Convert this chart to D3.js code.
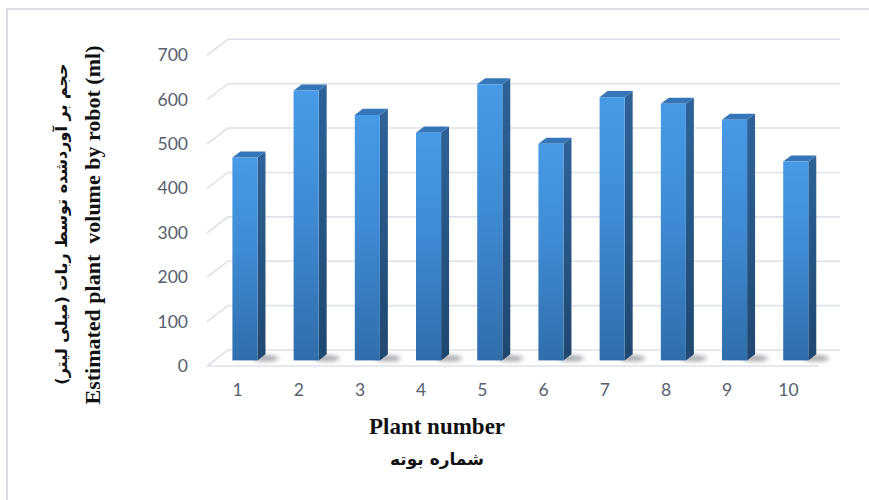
<!DOCTYPE html>
<html>
<head>
<meta charset="utf-8">
<script src="https://cdn.jsdelivr.net/npm/d3@7"></script>
<style>
  html, body { margin: 0; padding: 0; background: #fff; }
  svg { display: block; }
</style>
</head>
<body>
<svg id="chart" width="869" height="500"></svg>
<script>
// Plant numbers and robot-estimated volumes (ml)
const plants = ["1", "2", "3", "4", "5", "6", "7", "8", "9", "10"];
const volumes = [457, 608, 553, 513, 622, 488, 593, 578, 542, 448];
const yTicks = [0, 100, 200, 300, 400, 500, 600, 700];

const yTitleFa = "حجم بر آوردشده توسط ربات (میلی لیتر)";
const yTitleEn = "Estimated plant  volume by robot (ml)";
const xTitleEn = "Plant number";
const xTitleFa = "شماره بوته";

const svg = d3.select("#chart");
const W = 869, H = 500;

// Oblique 3D projection: depth t in [0,1] shifts points right and up
const depthX = 21, depthY = -16;
const floorY = 366;          // front edge of the floor
const plotLeft = 207, plotRight = 819;

const x = d3.scaleBand().domain(plants).range([plotLeft, plotRight]).padding(0);
const y = d3.scaleLinear().domain([0, 700]).range([floorY, floorY - 310.7]);
const px = (vx, t) => vx + depthX * t;
const py = (vy, t) => vy + depthY * t;

// Outer frame
svg.append("path")
  .attr("d", `M7,${H} L7,9 L${W},9`)
  .attr("fill", "none").attr("stroke", "#d9dde6").attr("stroke-width", 2);

const defs = svg.append("defs");
const gFront = defs.append("linearGradient").attr("id", "gFront")
  .attr("x1", 0).attr("y1", 0).attr("x2", 0).attr("y2", 1);
gFront.append("stop").attr("offset", "0%").attr("stop-color", "#479ae6");
gFront.append("stop").attr("offset", "45%").attr("stop-color", "#3f8bd4");
gFront.append("stop").attr("offset", "100%").attr("stop-color", "#2f6eab");
const gSide = defs.append("linearGradient").attr("id", "gSide")
  .attr("x1", 0).attr("y1", 0).attr("x2", 0).attr("y2", 1);
gSide.append("stop").attr("offset", "0%").attr("stop-color", "#2e6399");
gSide.append("stop").attr("offset", "100%").attr("stop-color", "#1f4770");
defs.append("filter").attr("id", "soft")
  .attr("x", "-50%").attr("y", "-50%").attr("width", "200%").attr("height", "200%")
  .append("feGaussianBlur").attr("stdDeviation", 2.2);

// Back-wall gridlines with their diagonal floor/side returns
const grid = svg.append("g").attr("stroke", "#dde1e8").attr("stroke-width", 1.6).attr("fill", "none");
yTicks.forEach(v => {
  const yb = py(y(v), 1);
  grid.append("path")
    .attr("d", `M${px(plotLeft, 0)},${y(v)} L${px(plotLeft, 1)},${yb} L${px(plotRight, 1)},${yb}`);
});
// Front edge of the floor
grid.append("line")
  .attr("x1", plotLeft).attr("x2", plotRight)
  .attr("y1", floorY).attr("y2", floorY);

// Y tick labels
svg.append("g").selectAll("text").data(yTicks).join("text")
  .attr("x", 188).attr("y", d => y(d) + 1.5)
  .attr("text-anchor", "end").attr("dominant-baseline", "middle")
  .attr("font-family", "Lato, 'Open Sans', sans-serif").attr("font-size", 17.5)
  .attr("fill", "#56606e")
  .text(d => d);

// Category labels
svg.append("g").selectAll("text").data(plants).join("text")
  .attr("x", d => x(d) + x.bandwidth() / 2).attr("y", 392)
  .attr("text-anchor", "middle").attr("dominant-baseline", "middle")
  .attr("font-family", "Lato, 'Open Sans', sans-serif").attr("font-size", 17.5)
  .attr("fill", "#56606e")
  .text(d => d);

// 3D bars
const tFront = 0.35, tBack = 0.73;
const barW = x.bandwidth() * 0.41;
const bars = svg.append("g").selectAll("g").data(plants.map((p, i) => ({ p, v: volumes[i] }))).join("g");

// floor shadow to the right of each bar base
bars.append("ellipse")
  .attr("cx", d => px(x(d.p) + x.bandwidth() / 2 + barW / 2, (tFront + tBack) / 2) + 4)
  .attr("cy", d => py(y(0), (tFront + tBack) / 2) + 1)
  .attr("rx", 13).attr("ry", 3)
  .attr("fill", "#3a3f48").attr("opacity", 0.45)
  .attr("filter", "url(#soft)");

bars.each(function (d) {
  const g = d3.select(this);
  const x0 = x(d.p) + x.bandwidth() / 2 - barW / 2, x1 = x0 + barW;
  const y0 = y(0), y1 = y(d.v);
  const fx0 = px(x0, tFront), fx1 = px(x1, tFront);
  const fy0 = py(y0, tFront), fy1 = py(y1, tFront);
  const bx1 = px(x1, tBack), bx0 = px(x0, tBack);
  const by0 = py(y0, tBack), by1 = py(y1, tBack);
  // side face
  g.append("path")
    .attr("d", `M${fx1},${fy1} L${bx1},${by1} L${bx1},${by0} L${fx1},${fy0} Z`)
    .attr("fill", "url(#gSide)");
  // top face
  g.append("path")
    .attr("d", `M${fx0},${fy1} L${fx1},${fy1} L${bx1},${by1} L${bx0},${by1} Z`)
    .attr("fill", "#3576b8");
  // front face
  g.append("rect")
    .attr("x", fx0).attr("y", fy1).attr("width", fx1 - fx0).attr("height", fy0 - fy1)
    .attr("fill", "url(#gFront)");
});

// Y axis title (two lines, rotated)
svg.append("text")
  .attr("transform", "translate(62,224) rotate(-90)")
  .attr("text-anchor", "middle").attr("dominant-baseline", "middle")
  .attr("direction", "rtl")
  .attr("font-family", "'DejaVu Sans', sans-serif").attr("font-weight", "bold").attr("font-size", 16)
  .attr("fill", "#111")
  .text(yTitleFa);
svg.append("text")
  .attr("transform", "translate(95,225) rotate(-90)")
  .attr("text-anchor", "middle").attr("dominant-baseline", "middle")
  .attr("font-family", "'Liberation Serif', 'Times New Roman', serif").attr("font-weight", "bold").attr("font-size", 22)
  .attr("fill", "#111")
  .style("white-space", "pre")
  .text(yTitleEn);

// X axis title (two lines)
svg.append("text")
  .attr("x", 437).attr("y", 429)
  .attr("text-anchor", "middle").attr("dominant-baseline", "middle")
  .attr("font-family", "'Liberation Serif', 'Times New Roman', serif").attr("font-weight", "bold").attr("font-size", 23)
  .attr("fill", "#111")
  .text(xTitleEn);
svg.append("text")
  .attr("x", 437).attr("y", 460)
  .attr("text-anchor", "middle").attr("dominant-baseline", "middle")
  .attr("direction", "rtl")
  .attr("font-family", "'DejaVu Sans', sans-serif").attr("font-weight", "bold").attr("font-size", 17)
  .attr("fill", "#111")
  .text(xTitleFa);
</script>
</body>
</html>
